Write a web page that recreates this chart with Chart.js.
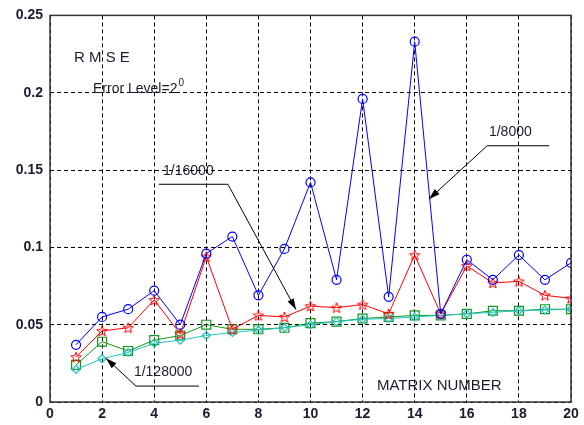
<!DOCTYPE html>
<html>
<head>
<meta charset="utf-8">
<script src="https://cdn.jsdelivr.net/npm/chart.js@4.4.0/dist/chart.umd.min.js"></script>
<style>
    html, body { margin: 0; padding: 0; background: #fff; }
    #wrap { width: 584px; height: 425px; }
</style>
</head>
<body>
<div id="wrap"><canvas id="rmseChart"></canvas></div>
<script>
// matrix number on the x axis
const matrixNumbers = [1, 2, 3, 4, 5, 6, 7, 8, 9, 10, 11, 12, 13, 14, 15, 16, 17, 18, 19, 20];

// RMSE per series
const rmse8000 = [0.037, 0.055, 0.060, 0.072, 0.050, 0.096, 0.107, 0.069, 0.099, 0.142,
    0.079, 0.196, 0.068, 0.233, 0.057, 0.092, 0.079, 0.095, 0.079, 0.090];
const rmse16000 = [0.029, 0.046, 0.048, 0.066, 0.044, 0.094, 0.047, 0.056, 0.055, 0.062,
    0.061, 0.063, 0.057, 0.095, 0.057, 0.088, 0.077, 0.078, 0.069, 0.067];
const rmseSquares = [0.024, 0.039, 0.033, 0.040, 0.043, 0.050, 0.047, 0.047, 0.048, 0.051,
    0.052, 0.054, 0.055, 0.056, 0.056, 0.057, 0.059, 0.059, 0.060, 0.060];
const rmse128000 = [0.021, 0.028, 0.032, 0.038, 0.040, 0.043, 0.045, 0.0465, 0.048, 0.050,
    0.052, 0.0535, 0.054, 0.055, 0.056, 0.057, 0.058, 0.059, 0.0595, 0.060];

const xTicks = { min: 0, max: 20, step: 2 };
const yTicks = { min: 0, max: 0.25, step: 0.05 };

const FONT = "'Liberation Sans', Arial, sans-serif";

// text labels and leader arrows, placed in data units
const notes = [
    { text: '1/16000', at: [4.34, 0.1465], from: [4.18, 0.1408], to: [6.83, 0.1408], tip: [9.44, 0.0598] },
    { text: '1/8000', at: [16.85, 0.1717], from: [19.16, 0.1657], to: [16.78, 0.1657], tip: [14.55, 0.1312] },
    { text: '1/128000', at: [3.22, 0.0167], from: [5.72, 0.0103], to: [3.30, 0.0103], tip: [2.15, 0.0283] }
];

function starImage(color, r) {
    const c = document.createElement('canvas');
    const s = Math.ceil(r * 2 + 3);
    c.width = s;
    c.height = s;
    const g = c.getContext('2d');
    g.strokeStyle = color;
    g.lineWidth = 1;
    g.beginPath();
    for (let i = 0; i < 10; i++) {
        const rad = i % 2 ? r * 0.42 : r;
        const a = -Math.PI / 2 + i * Math.PI / 5;
        g.lineTo(s / 2 + rad * Math.cos(a), s / 2 + 0.5 + rad * Math.sin(a));
    }
    g.closePath();
    g.stroke();
    return c;
}

function series(data, color, style, radius) {
    return {
        data: matrixNumbers.map((x, i) => ({ x, y: data[i] })),
        borderColor: color,
        borderWidth: 1,
        pointStyle: style,
        pointRadius: radius,
        pointBorderColor: color,
        pointBackgroundColor: 'rgba(0,0,0,0)',
        pointBorderWidth: 1.2,
        tension: 0
    };
}

const annotate = {
    id: 'annotate',
    afterDraw(chart) {
        const { ctx, chartArea: a, scales: { x, y } } = chart;
        const px = p => [x.getPixelForValue(p[0]), y.getPixelForValue(p[1])];

        ctx.save();
        // axes box
        ctx.strokeStyle = '#333';
        ctx.lineWidth = 1.5;
        ctx.strokeRect(a.left, a.top, a.right - a.left, a.bottom - a.top);

        ctx.fillStyle = '#1c1c2e';
        ctx.textBaseline = 'alphabetic';
        ctx.font = '15px ' + FONT;
        let p = px([0.92, 0.220]);
        ctx.fillText('R M S E', p[0], p[1]);

        ctx.font = '14px ' + FONT;
        p = px([1.65, 0.2]);
        ctx.fillText('Error Level=2', p[0], p[1]);
        const w = ctx.measureText('Error Level=2').width;
        ctx.font = '10px ' + FONT;
        ctx.fillText('0', p[0] + w + 1, p[1] - 7);

        ctx.font = '15px ' + FONT;
        p = px([12.55, 0.0077]);
        ctx.fillText('MATRIX NUMBER', p[0], p[1]);

        ctx.strokeStyle = '#000';
        ctx.lineWidth = 1;
        notes.forEach(n => {
            ctx.font = '14px ' + FONT;
            ctx.fillStyle = '#1c1c2e';
            const t = px(n.at);
            ctx.fillText(n.text, t[0], t[1]);
            const f = px(n.from), m = px(n.to), e = px(n.tip);
            ctx.beginPath();
            ctx.moveTo(f[0], f[1]);
            ctx.lineTo(m[0], m[1]);
            ctx.lineTo(e[0], e[1]);
            ctx.stroke();
            const ang = Math.atan2(e[1] - m[1], e[0] - m[0]);
            const len = 11, half = 3.5;
            ctx.fillStyle = '#000';
            ctx.beginPath();
            ctx.moveTo(e[0], e[1]);
            ctx.lineTo(e[0] - len * Math.cos(ang) + half * Math.sin(ang), e[1] - len * Math.sin(ang) - half * Math.cos(ang));
            ctx.lineTo(e[0] - len * Math.cos(ang) - half * Math.sin(ang), e[1] - len * Math.sin(ang) + half * Math.cos(ang));
            ctx.closePath();
            ctx.fill();
        });
        ctx.restore();
    }
};

const gridStyle = {
    color: '#000',
    lineWidth: 1,
    drawTicks: false
};

new Chart(document.getElementById('rmseChart'), {
    type: 'line',
    data: {
        datasets: [
            series(rmse8000, '#0000ff', 'circle', 4.5),
            series(rmse16000, '#ff0000', starImage('#ff0000', 5.5), 5),
            series(rmse128000, '#22c4c4', 'rectRot', 4),
            series(rmseSquares, '#11961a', 'rect', 6.3)
        ]
    },
    options: {
        responsive: true,
        maintainAspectRatio: false,
        animation: false,
        layout: { padding: { left: 0, right: 13, top: 13, bottom: 0 } },
        plugins: {
            legend: { display: false },
            tooltip: { enabled: false }
        },
        scales: {
            x: {
                type: 'linear',
                min: xTicks.min,
                max: xTicks.max,
                grid: gridStyle,
                border: { display: false, dash: [4, 3] },
                ticks: {
                    stepSize: xTicks.step,
                    color: '#1c1c2e',
                    padding: 4,
                    font: { family: FONT, size: 14, weight: 'bold' },
                    maxRotation: 0
                },
                afterFit(s) { s.height = 23; }
            },
            y: {
                type: 'linear',
                min: yTicks.min,
                max: yTicks.max,
                grid: gridStyle,
                border: { display: false, dash: [4, 3] },
                ticks: {
                    stepSize: yTicks.step,
                    color: '#1c1c2e',
                    padding: 7,
                    font: { family: FONT, size: 14, weight: 'bold' },
                    callback: v => String(+v.toFixed(2))
                },
                afterFit(s) { s.width = 50; }
            }
        }
    },
    plugins: [annotate]
});
</script>
</body>
</html>
